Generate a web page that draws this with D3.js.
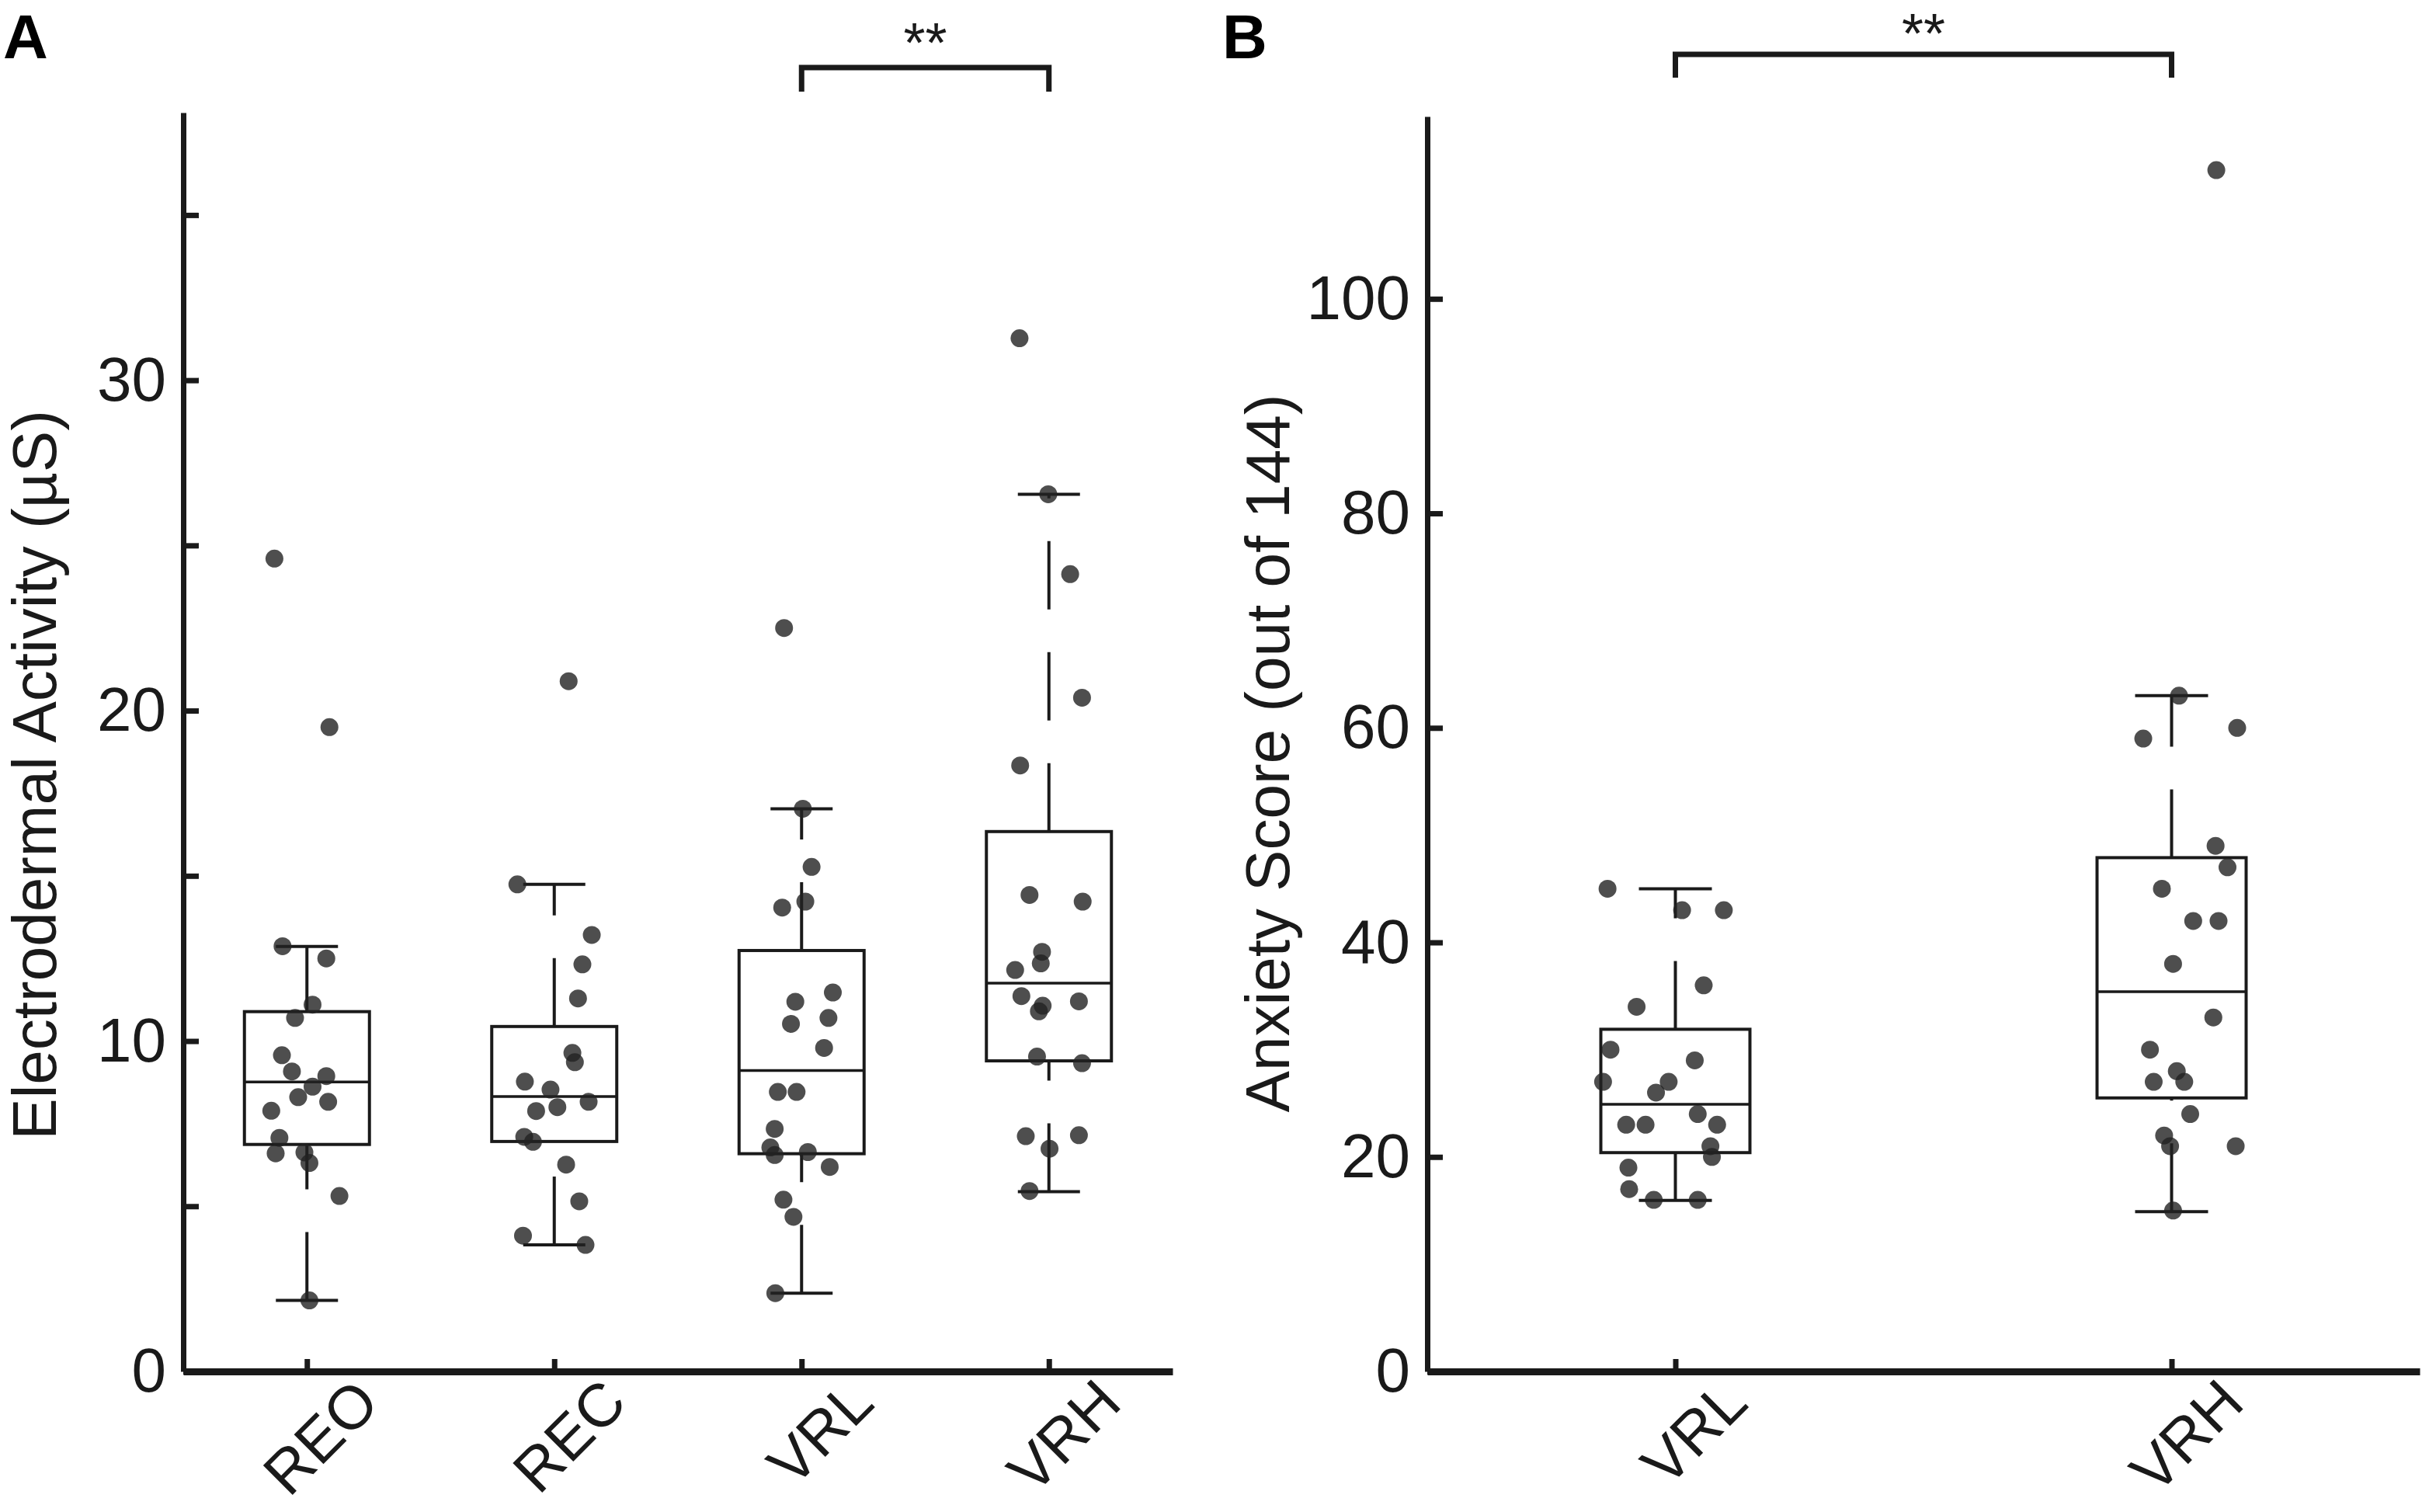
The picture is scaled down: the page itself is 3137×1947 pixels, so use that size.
<!DOCTYPE html>
<html>
<head>
<meta charset="utf-8">
<script src="https://cdn.jsdelivr.net/npm/d3@7"></script>
<style>
  body { margin: 0; background: #fff; }
  text { font-family: "Liberation Sans", Arial, Helvetica, sans-serif; }
</style>
</head>
<body>
<svg id="chart"></svg>
<script>
// ---- Panel A data (electrodermal activity, µS) ----
const catsA = ["REO", "REC", "VRL", "VRH"]
const yTicksA = [0, 5, 10, 15, 20, 25, 30, 35]
const yTickLabelsA = [0, 10, 20, 30]

const valuesREO = [24.6, 19.5, 12.87, 12.5, 11.1, 10.7, 9.57, 9.08, 8.94, 8.62, 8.3, 8.16, 7.89, 7.07, 6.6, 6.63, 6.31, 5.31, 2.15]
const jitterREO = [-0.52, 0.36, -0.39, 0.31, 0.09, -0.19, -0.4, -0.24, 0.31, 0.09, -0.14, 0.34, -0.57, -0.44, -0.5, -0.04, 0.04, 0.52, 0.04]
const valuesREC = [20.89, 14.74, 13.21, 12.32, 11.29, 9.64, 9.36, 8.77, 8.53, 8.0, 8.16, 7.88, 7.1, 6.95, 6.26, 5.15, 4.11, 3.83]
const jitterREC = [0.23, -0.59, 0.6, 0.45, 0.38, 0.29, 0.33, -0.47, -0.06, 0.05, 0.55, -0.29, -0.48, -0.34, 0.19, 0.4, -0.5, 0.5]
const valuesVRL_A = [22.5, 17.03, 15.27, 14.04, 14.22, 11.47, 11.19, 10.7, 10.52, 9.79, 8.46, 8.46, 7.34, 6.78, 6.55, 6.64, 6.19, 5.2, 4.68, 2.37]
const jitterVRL_A = [-0.28, 0.02, 0.16, -0.31, 0.06, 0.5, -0.1, 0.43, -0.17, 0.36, -0.38, -0.08, -0.43, -0.5, -0.43, 0.1, 0.45, -0.29, -0.13, -0.42]
const valuesVRH_A = [31.27, 26.55, 24.13, 20.39, 18.34, 14.42, 14.22, 12.7, 12.35, 12.15, 11.36, 11.07, 10.9, 11.2, 9.53, 9.33, 7.12, 7.15, 6.74, 5.46]
const jitterVRH_A = [-0.47, -0.01, 0.34, 0.53, -0.46, -0.31, 0.54, -0.11, -0.13, -0.54, -0.44, -0.1, -0.16, 0.48, -0.19, 0.53, -0.37, 0.48, 0.01, -0.31]

// box summary: lower whisker, Q1, median, Q3, upper whisker
const whiskerLowA = [2.15, 3.83, 2.37, 5.44]
const q1A = [6.87, 6.96, 6.59, 9.4]
const medianA = [8.76, 8.32, 9.11, 11.75]
const q3A = [10.89, 10.44, 12.74, 16.34]
const whiskerHighA = [12.86, 14.74, 17.03, 26.55]

// ---- Panel B data (anxiety score, out of 144) ----
const catsB = ["VRL", "VRH"]
const yTicksB = [0, 20, 40, 60, 80, 100]
const yTickLabelsB = [0, 20, 40, 60, 80, 100]

const valuesVRL_B = [45, 43, 43, 36, 34, 30, 29, 27, 27, 26, 24, 23, 23, 23, 21, 20, 19, 17, 16, 16]
const jitterVRL_B = [-0.91, 0.09, 0.65, 0.38, -0.52, -0.87, 0.26, -0.97, -0.09, -0.26, 0.3, -0.66, -0.4, 0.56, 0.47, 0.49, -0.63, -0.62, -0.29, 0.3]
const valuesVRH_B = [112, 63, 59, 60, 49, 47, 45, 42, 42, 38, 33, 30, 28, 27, 27, 24, 22, 21, 21, 15]
const jitterVRH_B = [0.6, 0.1, -0.38, 0.88, 0.59, 0.75, -0.13, 0.29, 0.63, 0.02, 0.56, -0.29, 0.07, -0.24, 0.17, 0.25, -0.1, -0.02, 0.86, 0.02]

const whiskerLowB = [15.94, 14.9]
const q1B = [20.4, 25.5]
const medianB = [24.9, 35.4]
const q3B = [31.9, 47.9]
const whiskerHighB = [45, 63]

// ---- layout ----
const width = 3137
const height = 1947
const axisY = 1766
const ink = "#1a1a1a"

const svg = d3.select("#chart").attr("width", width).attr("height", height)

const drawPanel = p => {
  const g = svg.append("g")
  const x = d3.scalePoint().domain(p.cats).range([p.left, p.right]).padding(0.5)
  const y = d3.scaleLinear().domain([0, p.yMax]).range([axisY, p.top])

  // boxes + dashed whiskers (dash pattern starts at the lower end of each whisker)
  p.cats.forEach((c, i) => {
    const cx = x(c)
    const bg = g.append("g").attr("stroke", ink).attr("fill", "none")
    bg.append("line")
      .attr("x1", cx).attr("x2", cx)
      .attr("y1", y(p.q3[i])).attr("y2", y(p.high[i]))
      .attr("stroke-width", 4).attr("stroke-dasharray", "88 55")
    bg.append("line")
      .attr("x1", cx).attr("x2", cx)
      .attr("y1", y(p.low[i])).attr("y2", y(p.q1[i]))
      .attr("stroke-width", 4).attr("stroke-dasharray", "88 55")
    ;[p.low[i], p.high[i]].forEach(v => {
      bg.append("line")
        .attr("x1", cx - p.capHalf).attr("x2", cx + p.capHalf)
        .attr("y1", y(v)).attr("y2", y(v))
        .attr("stroke-width", 4)
    })
    bg.append("rect")
      .attr("x", cx - p.boxHalf).attr("width", p.boxHalf * 2)
      .attr("y", y(p.q3[i])).attr("height", y(p.q1[i]) - y(p.q3[i]))
      .attr("stroke-width", 4)
    bg.append("line")
      .attr("x1", cx - p.boxHalf).attr("x2", cx + p.boxHalf)
      .attr("y1", y(p.median[i])).attr("y2", y(p.median[i]))
      .attr("stroke-width", 3.5)
  })

  // jittered points
  p.cats.forEach((c, i) => {
    const pts = p.values[i].map((v, j) => ({ v, j: p.jitter[i][j] }))
    g.append("g")
      .selectAll("circle")
      .data(pts)
      .join("circle")
      .attr("cx", d => x(c) + d.j * p.boxHalf)
      .attr("cy", d => y(d.v))
      .attr("r", 11.5)
      .attr("fill", "#222")
      .attr("fill-opacity", 0.8)
  })

  // axes
  const yAxis = d3.axisLeft(y)
    .tickValues(p.yTicks)
    .tickFormat(d => (p.yTickLabels.includes(d) ? d : ""))
    .tickSize(-20)
    .tickSizeOuter(0)
    .tickPadding(22)
  g.append("g")
    .attr("transform", `translate(${p.left},0)`)
    .attr("color", ink)
    .call(yAxis)
    .call(a => a.select(".domain").attr("stroke-width", 7))
    .call(a => a.selectAll(".tick line").attr("stroke-width", 7))
    .call(a => a.selectAll("text").attr("font-size", 80).attr("font-family", null))

  const xAxis = d3.axisBottom(x).tickSize(-16).tickSizeOuter(0)
  g.append("g")
    .attr("transform", `translate(0,${axisY})`)
    .attr("color", ink)
    .call(xAxis)
    .call(a => a.select(".domain").attr("stroke-width", 9))
    .call(a => a.selectAll(".tick line").attr("stroke-width", 7))
    .call(a => a.selectAll("text")
      .attr("font-size", 78).attr("font-family", null)
      .attr("text-anchor", "end")
      .attr("x", 0).attr("y", 0).attr("dy", null)
      .attr("transform", "translate(96,44) rotate(-45)"))

  // y label
  g.append("text")
    .attr("transform", `translate(${p.labelX},${p.labelY}) rotate(-90)`)
    .attr("text-anchor", "middle")
    .attr("font-size", 80)
    .attr("fill", ink)
    .text(p.yLabel)

  // significance bracket
  const x1 = x(p.sig[0])
  const x2 = x(p.sig[1])
  g.append("path")
    .attr("d", `M${x1},${p.bracketDrop}V${p.bracketY}H${x2}V${p.bracketDrop}`)
    .attr("fill", "none")
    .attr("stroke", ink)
    .attr("stroke-width", 7)
  g.append("text")
    .attr("x", (x1 + x2) / 2)
    .attr("y", p.starsY)
    .attr("text-anchor", "middle")
    .attr("font-size", 72)
    .attr("fill", ink)
    .text("**")

  // panel letter
  g.append("text")
    .attr("x", p.letterX)
    .attr("y", p.letterY)
    .attr("font-size", 80)
    .attr("font-weight", "bold")
    .attr("fill", "#000")
    .text(p.letter)
}

drawPanel({
  cats: catsA,
  values: [valuesREO, valuesREC, valuesVRL_A, valuesVRH_A],
  jitter: [jitterREO, jitterREC, jitterVRL_A, jitterVRH_A],
  low: whiskerLowA, q1: q1A, median: medianA, q3: q3A, high: whiskerHighA,
  yTicks: yTicksA, yTickLabels: yTickLabelsA,
  yMax: 38.1, left: 236, right: 1510, top: 145,
  boxHalf: 80.5, capHalf: 40,
  yLabel: "Electrodermal Activity (µS)", labelX: 72, labelY: 998,
  sig: ["VRL", "VRH"], bracketY: 87, bracketDrop: 118, starsY: 80,
  letter: "A", letterX: 4, letterY: 75
})

drawPanel({
  cats: catsB,
  values: [valuesVRL_B, valuesVRH_B],
  jitter: [jitterVRL_B, jitterVRH_B],
  low: whiskerLowB, q1: q1B, median: medianB, q3: q3B, high: whiskerHighB,
  yTicks: yTicksB, yTickLabels: yTickLabelsB,
  yMax: 117, left: 1838, right: 3116, top: 150,
  boxHalf: 96, capHalf: 47,
  yLabel: "Anxiety Score (out of 144)", labelX: 1660, labelY: 970,
  sig: ["VRL", "VRH"], bracketY: 70, bracketDrop: 100, starsY: 68,
  letter: "B", letterX: 1574, letterY: 75
})
</script>
</body>
</html>
